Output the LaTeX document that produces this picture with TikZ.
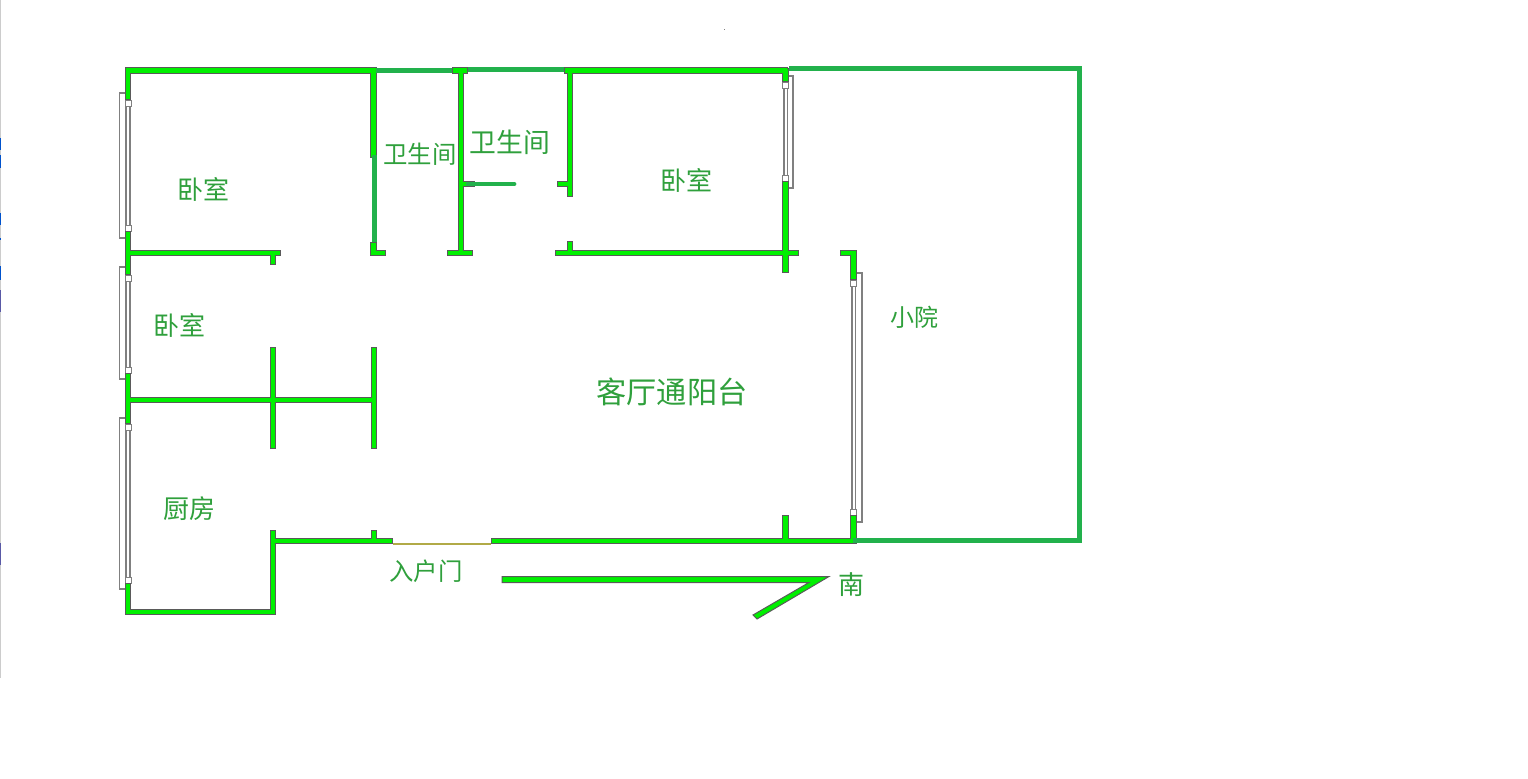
\documentclass[tikz,border=0pt]{standalone}
\usepackage{fontspec}
\setmainfont{Noto Sans CJK SC}
\definecolor{wallg}{HTML}{00F000}
\definecolor{wallo}{HTML}{5A5A5A}
\definecolor{yard}{HTML}{22B14C}
\definecolor{txtg}{HTML}{2FA03C}
\definecolor{winb}{HTML}{808080}
\tikzset{
  roomlabel/.style={text=txtg,inner sep=0pt,anchor=center},
  yardline/.style={draw=yard,line width=2.4pt,line cap=butt},
  winline/.style={draw=winb,line width=0.55pt},
  winpane/.style={draw=winb,line width=0.8pt},
  winpost/.style={draw=winb,line width=0.5pt,fill=white},
}
% window on a vertical wall: wall centre x, outer bracket x, bracket top, bracket bottom, top post y, bottom post y
\newcommand{\winv}[6]{%
  \draw[winpane] (#1-1.8,#5) -- (#1-1.8,#6+6);
  \draw[winpane] (#1+1.8,#5) -- (#1+1.8,#6+6);
  \draw[winline] (#1,#3) -- (#2,#3) -- (#2,#4) -- (#1,#4);
  \draw[winpost] (#1-3,#5) rectangle (#1+3,#5+6);
  \draw[winpost] (#1-3,#6) rectangle (#1+3,#6+6);
}
\newcommand{\wallset}{%
  128/68/128/100, 128/231/128/275, 128/373/128/424, 128/583/128/615,
  125/70.5/377/70.5, 452/70.5/468/70.5, 564/70.5/788/70.5,
  125/612/276/612, 273/530/273/615, 270/541/393/541, 374/530/374/541,
  491/541/856/541, 785.5/515/785.5/541, 853.5/515/853.5/544,
  840/253/856/253, 853.5/250/853.5/280,
  785.5/68/785.5/82, 785.5/181/785.5/273, 555/253/799/253, 570/241/570/253,
  570/68/570/197, 557/184/570/184,
  461/68/461/256, 447/253/473/253, 461/184/475/184,
  373.7/68/373.7/158, 373.7/242/373.7/256, 371/253/386/253,
  125/253/281/253, 273/253/273/265,
  273/347/273/449, 374/347/374/449, 125/400/377/400%
}
\begin{document}
\begin{tikzpicture}[x=0.5pt,y=-0.5pt]
\useasboundingbox (0,0) rectangle (1528,778);
\fill[white] (0,0) rectangle (1528,778);
% screen edge strip
\fill[gray!40] (0,0) rectangle (1,678);
\foreach \a/\b in {138/150,155/168,213/225,238/240,266/280}{\fill[blue!60!cyan!80!black] (0,\a) rectangle (1,\b);}
\foreach \a/\b in {290/312,543/565}{\fill[gray!70!blue] (0,\a) rectangle (1,\b);}
\fill[gray] (723.5,28.5) rectangle (725,30);
% door
\draw[draw=olive!50!yellow!60!gray,line width=0.6pt] (393,544) -- (491,544);
% windows
\winv{128}{119.5}{93}{238}{100}{225}
\winv{128}{119.5}{267}{379}{275}{367}
\winv{128}{119.5}{418}{589}{424}{577}
\winv{785.5}{793}{76}{188}{82}{175}
\winv{853.5}{862}{273}{522}{280}{509}
% walls: outline pass then fill pass
\foreach \xa/\ya/\xb/\yb in \wallset {\draw[wallo,line width=3.3pt] (\xa,\ya) -- (\xb,\yb);}
\foreach \xa/\ya/\xb/\yb in \wallset {\draw[wallg,line width=2.4pt,shorten >=0.3pt,shorten <=0.3pt] (\xa,\ya) -- (\xb,\yb);}
% courtyard and thin partitions
\draw[yardline] (789,68.5) -- (1079.5,68.5) -- (1079.5,540.5) -- (853,540.5);
\draw[yardline] (376,70.5) -- (452,70.5);
\draw[yardline] (468,69.5) -- (564,69.5);
\draw[yardline] (374.5,155) -- (374.5,242);
\draw[yardline,line cap=round] (468,184) -- (514,184);
% south arrow
\draw[wallo,fill=wallg,line width=0.5pt,line join=miter] (502,576.5) -- (829,576.5) -- (757,619) -- (753,615) -- (809,582.5) -- (502,582.5) -- cycle;
% labels
\node[roomlabel,font=\fontsize{13}{13}\selectfont] (bedA) at (203,189) {卧室};
\node[roomlabel,font=\fontsize{12.2}{13}\selectfont] (bathA) at (420,154) {卫生间};
\node[roomlabel,font=\fontsize{13.4}{14}\selectfont] (bathB) at (510,142) {卫生间};
\node[roomlabel,font=\fontsize{13}{13}\selectfont] (bedB) at (686,180) {卧室};
\node[roomlabel,font=\fontsize{13}{13}\selectfont] (bedC) at (179,325) {卧室};
\node[roomlabel,font=\fontsize{12}{13}\selectfont] (yardlabel) at (914,317) {小院};
\node[roomlabel,font=\fontsize{15.1}{16}\selectfont] (living) at (672,392) {客厅通阳台};
\node[roomlabel,font=\fontsize{13}{13}\selectfont] (kitchen) at (189,509) {厨房};
\node[roomlabel,font=\fontsize{12.2}{13}\selectfont] (entry) at (426,571) {入户门};
\node[roomlabel,font=\fontsize{13}{13}\selectfont] (south) at (851,585) {南};
\end{tikzpicture}
\end{document}
